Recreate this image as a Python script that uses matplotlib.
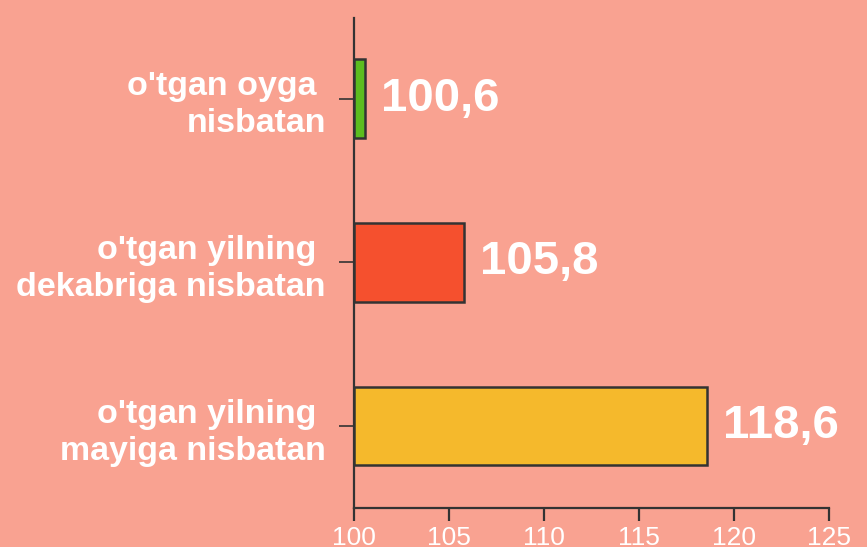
import matplotlib
matplotlib.use('Agg')
import matplotlib.pyplot as plt

plt.rcParams['font.family'] = ['Liberation Sans', 'DejaVu Sans']

categories = ["o'tgan oyga \nnisbatan",
              "o'tgan yilning \ndekabriga nisbatan",
              "o'tgan yilning \nmayiga nisbatan"]
values = [100.6, 105.8, 118.6]
bar_colors = ['#5CBD1F', '#F5502E', '#F5B92C']
x_ticks = [100, 105, 110, 115, 120, 125]

bg = '#F9A291'
dark = '#333333'

fig = plt.figure(figsize=(8.67, 5.47), dpi=100, facecolor=bg)
ax = fig.add_axes([0.408, 0.0713, 0.548, 0.896])
ax.set_facecolor(bg)

pos = list(range(len(categories)))
base = x_ticks[0]
ax.barh(pos, [v - base for v in values], left=base, height=0.48,
        color=bar_colors, edgecolor=dark, linewidth=1.8, zorder=3)

for p, v in zip(pos, values):
    ax.text(v + 0.85, p, f'{v:.1f}'.replace('.', ','), color='white',
            fontsize=34, fontweight='bold', va='center', ha='left')

ax.set_xlim(100, 125)
ax.set_ylim(2.5, -0.494)
ax.set_xticks(x_ticks)
ax.set_xticklabels([str(t) for t in x_ticks])
ax.set_yticks(pos)
ax.set_yticklabels(categories, fontsize=24.5, fontweight='bold', color='white',
                   linespacing=1.25)

for side in ['top', 'right']:
    ax.spines[side].set_visible(False)
for side in ['left', 'bottom']:
    ax.spines[side].set_color(dark)
    ax.spines[side].set_linewidth(1.6)

ax.tick_params(axis='y', length=11, width=1.2, color=dark, pad=9)
ax.tick_params(axis='x', length=9, width=1.6, color=dark, pad=4,
               labelsize=19, labelcolor='white')

fig.savefig('out.png', dpi=100, facecolor=bg)
